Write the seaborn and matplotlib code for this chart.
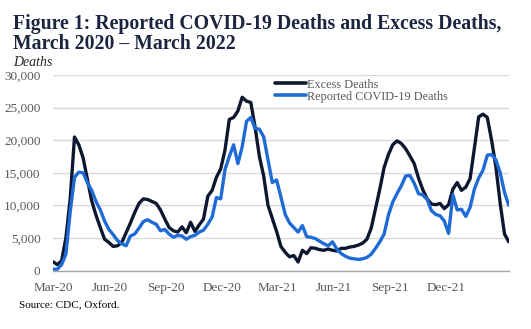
import numpy as np
import pandas as pd
import matplotlib
matplotlib.use("Agg")
import matplotlib.pyplot as plt
import seaborn as sns
from matplotlib.lines import Line2D

# ---- data (weekly, Mar 2020 - Mar 2022) ----
start_date = "2020-03-01"
n_weeks = 107

excess_deaths = [
    1350, 900, 1500, 5000, 11000, 20500, 19300, 17300, 14000, 10700,
    8500, 6600, 4800, 4300, 3700, 3800, 4300, 5800, 7300, 8900,
    10300, 11000, 10900, 10600, 10300, 9300, 7900, 6600, 6100, 5900,
    6700, 5800, 7400, 6000, 7000, 7900, 11400, 12300, 14300, 15600,
    18500, 23200, 23500, 24500, 26600, 26000, 25800, 22000, 17500, 14500,
    10000, 8000, 6000, 3700, 2800, 2100, 2300, 1300, 3100, 2600,
    3500, 3400, 3200, 3100, 3300, 3100, 3000, 3400, 3400, 3600,
    3700, 3900, 4200, 4800, 6500, 9500, 12500, 15800, 17800, 19300,
    19900, 19500, 18700, 17600, 16400, 14200, 12400, 11000, 10200, 10100,
    10300, 9500, 10100, 12500, 13500, 12300, 12800, 14100, 18800, 23600,
    24000, 23500, 20000, 15900, 10300, 5600, 4400,
]

reported_deaths = [
    200, 200, 900, 2500, 9000, 14300, 15100, 15000, 13500, 12300,
    10600, 9300, 7600, 6300, 5500, 4600, 4100, 3800, 5300, 5600,
    6500, 7500, 7800, 7400, 7100, 6100, 6300, 5600, 5100, 5400,
    5300, 4800, 5200, 5400, 5900, 6200, 7100, 8200, 11200, 11000,
    15500, 17500, 19300, 16400, 19000, 22900, 23500, 21800, 21700, 20500,
    17000, 13500, 13900, 11300, 8600, 7300, 6600, 5900, 6900, 5200,
    5100, 4900, 4500, 4100, 3800, 4400, 3300, 2600, 2200, 1900,
    1800, 1700, 1800, 2000, 2500, 3400, 4400, 5600, 8500, 10500,
    11800, 13000, 14500, 14600, 13400, 11800, 11600, 10900, 9200, 8600,
    8400, 7600, 5700, 11600, 9300, 9400, 8300, 9700, 12500, 14200,
    15400, 17700, 17800, 17000, 15000, 12000, 10000,
]

series_names = ["Excess Deaths", "Reported COVID-19 Deaths"]
x_tick_dates = ["2020-03-01", "2020-06-01", "2020-09-01", "2020-12-01",
                "2021-03-01", "2021-06-01", "2021-09-01", "2021-12-01"]
x_tick_labels = ["Mar-20", "Jun-20", "Sep-20", "Dec-20",
                 "Mar-21", "Jun-21", "Sep-21", "Dec-21"]
y_ticks = [0, 5000, 10000, 15000, 20000, 25000, 30000]

title_line1 = "Figure 1: Reported COVID-19 Deaths and Excess Deaths,"
title_line2 = "March 2020 \u2013 March 2022"
y_unit_text = "Deaths"
source_text = "Source: CDC, Oxford."

# ---- build table ----
dates = pd.date_range(start_date, periods=n_weeks, freq="7D")
df = pd.concat([
    pd.DataFrame({"date": dates, "deaths": excess_deaths, "series": series_names[0]}),
    pd.DataFrame({"date": dates, "deaths": reported_deaths, "series": series_names[1]}),
], ignore_index=True)

# ---- style ----
sns.set_style("white")
plt.rcParams["font.family"] = ["Liberation Serif", "DejaVu Serif"]

colors = {series_names[0]: "#0d1830", series_names[1]: "#1f6bd6"}
gray_text = "#595959"

fig = plt.figure(figsize=(5.31, 3.29), dpi=100)
ax = fig.add_axes([53 / 531, 1 - 270.5 / 329, (508.8 - 53) / 531, (270.5 - 75.1) / 329])

sns.lineplot(data=df, x="date", y="deaths", hue="series", hue_order=series_names,
             palette=colors, linewidth=2.4, ax=ax, legend=False, sort=False)

ax.set_xlim(dates[0], dates[-1])
ax.set_ylim(0, 30000)
ax.set_yticks(y_ticks)
ax.set_yticklabels([f"{v:,}" for v in y_ticks], color=gray_text, fontsize=9.5)
ax.set_xticks(pd.to_datetime(x_tick_dates))
ax.set_xticklabels(x_tick_labels, color=gray_text, fontsize=9.5)
ax.tick_params(axis="both", length=0)
ax.tick_params(axis="y", pad=9)
ax.tick_params(axis="x", pad=8)
ax.set_xlabel("")
ax.set_ylabel("")

ax.grid(axis="y", color="#d9d9d9", linewidth=1.0)
ax.set_axisbelow(True)
for side in ["left", "right", "top"]:
    ax.spines[side].set_visible(False)
ax.spines["bottom"].set_color("#a6a6a6")
ax.spines["bottom"].set_linewidth(1.0)

# legend
handles = [Line2D([0], [0], color=colors[s], linewidth=2.6) for s in series_names]
leg = ax.legend(handles, series_names, loc="upper left",
                bbox_to_anchor=((275 - 53) / (508.8 - 53), 1.0 - 3.5 / 195.4),
                frameon=False, fontsize=8.8, handlelength=2.5, handletextpad=0.1,
                labelspacing=0.0, borderaxespad=0.0, borderpad=0.0)
for t in leg.get_texts():
    t.set_color(gray_text)

# title & annotations
title_kw = dict(ha="left", va="top", fontsize=14.2, fontweight="bold", color="#1c2540")
fig.text(13 / 531, 1 - 14 / 329, title_line1, **title_kw)
fig.text(13 / 531, 1 - 34 / 329, title_line2, **title_kw)
fig.text(13 / 531, 1 - 56 / 329, y_unit_text, ha="left", va="top", fontsize=10,
         fontstyle="italic", color="#262626")
fig.text(19 / 531, 1 - 301 / 329, source_text, ha="left", va="top", fontsize=8,
         color="#000000")

fig.savefig("out.png", dpi=100, facecolor="white")
